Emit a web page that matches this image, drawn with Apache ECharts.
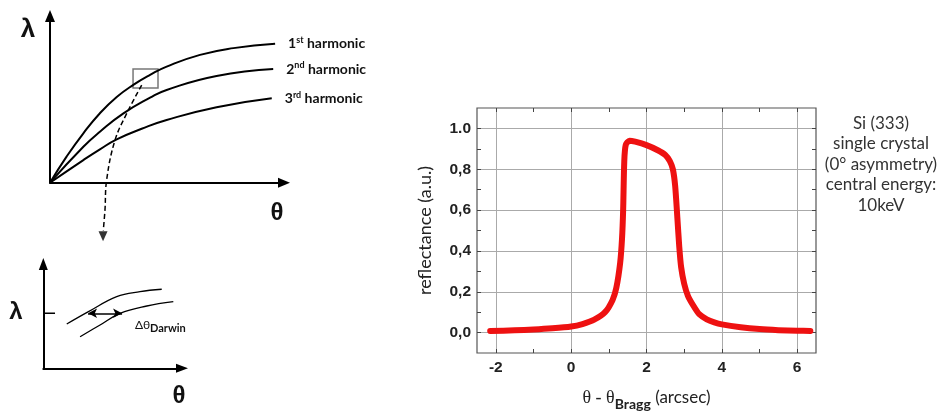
<!DOCTYPE html>
<html lang="en">
<head>
<meta charset="UTF-8">
<title>Si (333) reflectance</title>
<script src="https://cdn.jsdelivr.net/npm/echarts@6/dist/echarts.min.js"></script>
<style>
  html, body { margin: 0; padding: 0; background: #fff; }
  #chart { width: 941px; height: 416px; }
</style>
</head>
<body>
<div id="chart"></div>
<script>
// reflectance curve (right panel)
var thetaOffset = [-2.15, -1.5, -1, -0.5, 0, 0.3, 0.6, 0.9, 1.1, 1.2, 1.3, 1.35, 1.38, 1.41, 1.45, 1.55, 1.7, 2.0, 2.3, 2.5,
    2.62, 2.7, 2.76, 2.82, 2.87, 2.92, 3.0, 3.1, 3.25, 3.4, 3.6, 3.8, 4.0, 4.5, 5.0, 5.5, 6.0, 6.35];
var reflectance = [0.008, 0.011, 0.015, 0.021, 0.03, 0.042, 0.062, 0.1, 0.16, 0.22, 0.34, 0.46, 0.6, 0.84, 0.92, 0.94, 0.935, 0.918, 0.893, 0.87,
    0.84, 0.8, 0.72, 0.56, 0.42, 0.32, 0.24, 0.18, 0.13, 0.09, 0.065, 0.05, 0.04, 0.026, 0.017, 0.012, 0.009, 0.008];
var xMajorTicks = [-2, 0, 2, 4, 6];
var xAllTicks = [-2, -1, 0, 1, 2, 3, 4, 5, 6];
var yMajorTicks = [0, 0.2, 0.4, 0.6, 0.8, 1.0];
var yAllTicks = [0, 0.1, 0.2, 0.3, 0.4, 0.5, 0.6, 0.7, 0.8, 0.9, 1.0];
var yTickLabels = ['0,0', '0,2', '0,4', '0,6', '0,8', '1.0'];

// sketch: lambda vs theta for the harmonics (arbitrary units)
var h1Theta = [0, 0.69, 1.39, 2.08, 2.78, 3.47, 4.17, 4.86, 6.25, 7.64, 9.38];
var h1Lambda = [0, 1.51, 2.86, 4.02, 4.96, 5.66, 6.24, 6.72, 7.4, 7.79, 8.04];
var h2Theta = [0, 1.39, 2.08, 3.06, 4.17, 4.86, 6.94, 9.3];
var h2Lambda = [0, 2.08, 2.95, 4.01, 4.92, 5.37, 6.18, 6.58];
var h3Theta = [0, 1.39, 2.08, 2.78, 3.82, 4.86, 6.94, 9.24];
var h3Lambda = [0, 1.31, 1.93, 2.51, 3.12, 3.63, 4.37, 4.89];
var harmonicLabels = ['{n|1}{s|st}{n| harmonic}', '{n|2}{s|nd}{n| harmonic}', '{n|3}{s|rd}{n| harmonic}'];
var zoomTheta = [3.82, 3.2, 2.71, 2.36, 2.29, 2.22];
var zoomLambda = [5.65, 4.02, 2.47, 0.16, -1.58, -2.75];

// zoomed sketch (lower left)
var upperTheta = [1.62, 3.12, 5.07, 6.68, 8.18];
var upperLambda = [4.02, 5.14, 6.5, 6.95, 7.17];
var lowerTheta = [2.54, 3.92, 5.3, 7.15, 8.98];
var lowerLambda = [2.86, 3.93, 4.99, 5.65, 6.04];
var darwinLambda = 4.99;
var darwinFrom = 3.09;
var darwinTo = 5.44;

function zip(a, b) {
    var out = [];
    for (var i = 0; i < a.length; i++) out.push([a[i], b[i]]);
    return out;
}

var myChart = echarts.init(document.getElementById('chart'));

var sketchAxis = function (gridIndex, max, arrowSize) {
    return {
        type: 'value', gridIndex: gridIndex, min: 0, max: max,
        axisLine: { show: true, onZero: false, symbol: ['none', 'triangle'], symbolSize: arrowSize, lineStyle: { color: '#000', width: 2 } },
        axisTick: { show: false }, axisLabel: { show: false }, splitLine: { show: false }
    };
};
var hiddenAxis = function (gridIndex, min, max) {
    return { type: 'value', gridIndex: gridIndex, min: min, max: max, show: false, splitLine: { show: false } };
};
var tickAxis = function (gridIndex, min, max, ticks, position) {
    return {
        type: 'value', gridIndex: gridIndex, min: min, max: max, position: position,
        axisLine: { show: false, onZero: false },
        axisTick: { show: true, inside: true, length: 4, customValues: ticks, lineStyle: { color: '#444', width: 1 } },
        axisLabel: { show: false }, splitLine: { show: false }
    };
};

var harmonicSeries = function (data, label) {
    return {
        type: 'line', xAxisIndex: 0, yAxisIndex: 0, data: data, smooth: true, symbol: 'none',
        lineStyle: { color: '#000', width: 2 },
        endLabel: {
            show: true, distance: 13, formatter: label, color: '#111',
            rich: {
                n: { fontFamily: 'Lato', fontSize: 14, fontWeight: 'bold', color: '#111', lineHeight: 16 },
                s: { fontFamily: 'Lato', fontSize: 9, fontWeight: 'bold', color: '#111', verticalAlign: 'top', lineHeight: 16 }
            }
        }
    };
};

var s1 = harmonicSeries(zip(h1Theta, h1Lambda), harmonicLabels[0]);
s1.markArea = {
    silent: true,
    itemStyle: { color: 'rgba(0,0,0,0)', borderColor: '#777', borderWidth: 1.5 },
    data: [[{ coord: [3.46, 6.58] }, { coord: [4.5, 5.48] }]]
};

var option = {
    animation: false,
    grid: [
        { left: 50, top: 16, width: 234, height: 166.7 },
        { left: 50, top: 16, width: 234, height: 229 },
        { left: 43.3, top: 264, width: 138.7, height: 104.3 },
        { left: 477, top: 108, width: 339, height: 249, show: true, borderColor: '#555', borderWidth: 1.2, backgroundColor: 'transparent' }
    ],
    xAxis: [
        sketchAxis(0, 9.75, [10, 12]),
        hiddenAxis(1, 0, 9.75),
        sketchAxis(2, 9.58, [9, 12]),
        {
            type: 'value', gridIndex: 3, min: -2.5, max: 6.5,
            name: '{t|θ - θ}{b|Bragg}{a| (arcsec)}', nameLocation: 'middle', nameGap: 32,
            nameTextStyle: {
                color: '#222', lineHeight: 26,
                rich: {
                    t: { fontFamily: 'Liberation Serif', fontSize: 18, color: '#222', lineHeight: 26 },
                    b: { fontFamily: 'Lato', fontSize: 14, fontWeight: 'bold', color: '#222', verticalAlign: 'bottom', lineHeight: 26 },
                    a: { fontFamily: 'Lato', fontSize: 17, color: '#222', lineHeight: 26 }
                }
            },
            axisLine: { show: false, onZero: false },
            axisTick: { show: false, customValues: xMajorTicks },
            axisLabel: { customValues: xMajorTicks, margin: 7, color: '#222', fontFamily: 'Liberation Sans', fontWeight: 'bold', fontSize: 15.5 },
            splitLine: { show: true, lineStyle: { color: '#aaa', width: 1 } }
        },
        tickAxis(3, -2.5, 6.5, xAllTicks, 'bottom'),
        tickAxis(3, -2.5, 6.5, xAllTicks, 'top')
    ],
    yAxis: [
        sketchAxis(0, 9.65, [10, 12]),
        hiddenAxis(1, -3.6, 9.65),
        sketchAxis(2, 9.46, [9, 12]),
        {
            type: 'value', gridIndex: 3, min: -0.1, max: 1.1,
            name: 'reflectance (a.u.)', nameLocation: 'middle', nameGap: 43,
            nameTextStyle: { fontFamily: 'Lato', fontSize: 18, color: '#222' },
            axisLine: { show: false, onZero: false },
            axisTick: { show: false, customValues: yMajorTicks },
            axisLabel: {
                customValues: yMajorTicks, margin: 6, color: '#222', fontFamily: 'Liberation Sans', fontWeight: 'bold', fontSize: 15.5,
                formatter: function (v) { return yTickLabels[Math.round(v * 5)]; }
            },
            splitLine: { show: true, lineStyle: { color: '#aaa', width: 1 } }
        },
        tickAxis(3, -0.1, 1.1, yAllTicks, 'left'),
        tickAxis(3, -0.1, 1.1, yAllTicks, 'right')
    ],
    series: [
        s1,
        harmonicSeries(zip(h2Theta, h2Lambda), harmonicLabels[1]),
        harmonicSeries(zip(h3Theta, h3Lambda), harmonicLabels[2]),
        // dashed path from the box down to the zoomed sketch
        {
            type: 'line', xAxisIndex: 1, yAxisIndex: 1, data: zip(zoomTheta, zoomLambda), smooth: 0.4, symbol: 'none',
            lineStyle: { color: '#000', width: 1.5, type: [5, 3] }
        },
        {
            type: 'scatter', xAxisIndex: 1, yAxisIndex: 1, symbol: 'triangle', symbolRotate: 180, symbolSize: [9, 10],
            itemStyle: { color: '#000' }, data: [[zoomTheta[zoomTheta.length - 1] - 0.01, zoomLambda[zoomLambda.length - 1] - 0.35]]
        },
        // zoomed sketch
        {
            type: 'line', xAxisIndex: 2, yAxisIndex: 2, data: zip(upperTheta, upperLambda), smooth: 0.4, symbol: 'none',
            lineStyle: { color: '#000', width: 1.3 }
        },
        {
            type: 'line', xAxisIndex: 2, yAxisIndex: 2, data: zip(lowerTheta, lowerLambda), smooth: 0.4, symbol: 'none',
            lineStyle: { color: '#000', width: 1.3 },
            markLine: {
                silent: true, symbol: ['arrow', 'arrow'], symbolSize: [7, 9], label: { show: false },
                lineStyle: { color: '#000', width: 1.5, type: 'solid' },
                data: [[{ coord: [darwinFrom, darwinLambda] }, { coord: [darwinTo, darwinLambda] }]]
            }
        },
        {
            type: 'line', xAxisIndex: 2, yAxisIndex: 2, data: [[0, darwinLambda], [0.81, darwinLambda]], symbol: 'none',
            lineStyle: { color: '#000', width: 1.5 }
        },
        // reflectance
        {
            type: 'line', xAxisIndex: 3, yAxisIndex: 3, data: zip(thetaOffset, reflectance), smooth: 0.25, symbol: 'none',
            lineStyle: { color: '#ee1111', width: 6, cap: 'round', join: 'round' }
        }
    ],
    graphic: [
        { type: 'text', x: 28, y: 30, style: { text: 'λ', font: 'bold 26px "Liberation Sans"', fill: '#111', align: 'center', verticalAlign: 'middle' } },
        { type: 'text', x: 277, y: 213, style: { text: 'θ', font: 'bold 24px "Liberation Sans"', fill: '#111', align: 'center', verticalAlign: 'middle' } },
        { type: 'text', x: 16, y: 312, style: { text: 'λ', font: 'bold 24px "Liberation Sans"', fill: '#111', align: 'center', verticalAlign: 'middle' } },
        { type: 'text', x: 179, y: 396, style: { text: 'θ', font: 'bold 24px "Liberation Sans"', fill: '#111', align: 'center', verticalAlign: 'middle' } },
        {
            type: 'text', x: 135, y: 325,
            style: {
                text: '{a|Δθ}{b|Darwin}', align: 'left', verticalAlign: 'middle',
                rich: {
                    a: { fontFamily: 'Lato', fontSize: 12, fill: '#111', lineHeight: 18 },
                    b: { fontFamily: 'Lato', fontSize: 11, fontWeight: 'bold', fill: '#111', verticalAlign: 'bottom', lineHeight: 18 }
                }
            }
        },
        {
            type: 'text', x: 881, y: 113,
            style: {
                text: 'Si (333)\nsingle crystal\n(0° asymmetry)\ncentral energy:\n10keV',
                font: '17px Lato', fill: '#333', align: 'center', verticalAlign: 'top', lineHeight: 20.5
            }
        }
    ]
};

myChart.setOption(option);
</script>
</body>
</html>
